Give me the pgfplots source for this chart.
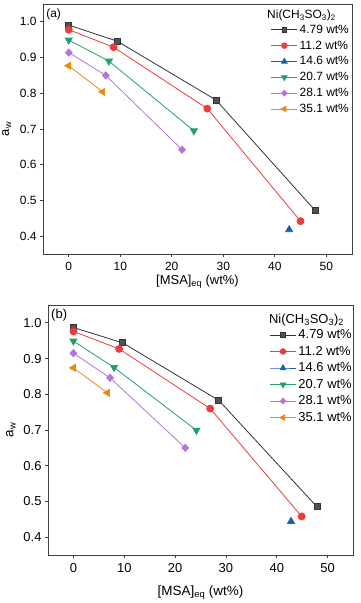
\documentclass[border=0pt]{standalone}
\usepackage{pgfplots}
\pgfplotsset{compat=1.18}
\usepackage{fontspec}
\setmainfont{Liberation Sans}
\definecolor{cblack}{HTML}{333333}
\definecolor{cred}{HTML}{EE3B3B}
\definecolor{cblue}{HTML}{1862AA}
\definecolor{cgreen}{HTML}{22A06B}
\definecolor{cpurple}{HTML}{B274DD}
\definecolor{corange}{HTML}{EB8A12}
\definecolor{frame}{HTML}{404040}

\pgfplotsset{
  panel/.style n args={3}{
    scale only axis, width=#1, height=250bp,
    xmin=-5, xmax=55, ymin=0.35, ymax=1.05,
    xtick={0,10,20,30,40,50}, ytick={0.4,0.5,0.6,0.7,0.8,0.9,1.0},
    yticklabel style={/pgf/number format/fixed, /pgf/number format/fixed zerofill, /pgf/number format/precision=1},
    xticklabel style={yshift=-2bp},
    /pgf/number format/assume math mode=true,
    tick align=outside, tick pos=left, major tick length=3bp,
    tick style={frame, line width=0.8pt},
    axis line style={frame, line width=0.9pt},
    tick label style={font=\fontsize{#2}{#2}\selectfont},
    label style={font=\fontsize{#3}{#3}\selectfont},
    xlabel={[MSA]\textsubscript{eq} (wt\%)},
    ylabel={a\textsubscript{w}},
    legend cell align=left,
    legend style={draw=none, fill=none, font=\fontsize{#2}{#2}\selectfont,
      anchor=north east, row sep=2bp, inner sep=0pt},
    legend image code/.code={\draw[mark repeat=2, mark phase=2, every mark/.append style={scale=0.8}] plot coordinates {(0bp,0bp) (13bp,0bp) (26bp,0bp)};},
    every axis plot/.append style={line width=0.8pt},
  },
  sblack/.style={color=cblack, mark=square*, mark size=3bp, mark options={fill=cblack!85}},
  sred/.style={color=cred, mark=*, mark size=3.5bp},
  sblue/.style={color=cblue, mark=triangle*, mark size=4bp},
  sgreen/.style={color=cgreen, mark=triangle*, mark size=4bp, mark options={rotate=180}},
  spurple/.style={color=cpurple, mark=diamond*, mark size=3.6bp, mark options={xscale=1.25}},
  sorange/.style={color=corange, mark=triangle*, mark size=4bp, mark options={rotate=90}},
}

\begin{document}
\begin{tikzpicture}[x=1bp, y=1bp]
\useasboundingbox (0,0) rectangle (360,603);

% (a)
\begin{axis}[panel={309bp}{12}{13}, at={(43bp,349bp)}, anchor=south west,
  legend style={at={(rel axis cs:0.997,0.925)}},
  xlabel style={at={(axis description cs:0.5,0)}, anchor=base, yshift=-31bp},
  ylabel style={yshift=2bp}]
\addplot[sblack] coordinates {(0,0.991) (9.4,0.946) (28.6,0.781) (47.9,0.471)};
\addlegendentry{4.79 wt\%}
\addplot[sred] coordinates {(0,0.978) (8.7,0.929) (26.9,0.757) (45.0,0.442)};
\addlegendentry{11.2 wt\%}
\addplot[sblue] coordinates {(42.8,0.418)};
\addlegendentry{14.6 wt\%}
\addplot[sgreen] coordinates {(0,0.949) (7.8,0.890) (24.3,0.695)};
\addlegendentry{20.7 wt\%}
\addplot[spurple] coordinates {(0,0.914) (7.2,0.850) (22.0,0.642)};
\addlegendentry{28.1 wt\%}
\addplot[sorange] coordinates {(0,0.877) (6.6,0.804)};
\addlegendentry{35.1 wt\%}
\node[anchor=base west, font=\fontsize{12}{12}\selectfont, inner sep=0pt] at (rel axis cs:0.01,0.944) {(a)};
\node[anchor=base west, font=\fontsize{12}{12}\selectfont, inner sep=0pt] at (rel axis cs:0.725,0.94) {Ni(CH\textsubscript{3}SO\textsubscript{3})\textsubscript{2}};
\end{axis}

% (b)
\begin{axis}[panel={305bp}{13}{13.5}, at={(48bp,48bp)}, anchor=south west,
  legend style={at={(rel axis cs:1.003,0.91)}},
  xlabel style={at={(axis description cs:0.5,0)}, anchor=base, yshift=-40bp},
  ylabel style={yshift=1bp}]
\addplot[sblack] coordinates {(0,0.987) (9.7,0.944) (28.6,0.783) (47.9,0.485)};
\addlegendentry{4.79 wt\%}
\addplot[sred] coordinates {(0,0.976) (9.0,0.927) (26.9,0.760) (44.9,0.458)};
\addlegendentry{11.2 wt\%}
\addplot[sblue] coordinates {(42.8,0.444)};
\addlegendentry{14.6 wt\%}
\addplot[sgreen] coordinates {(0,0.949) (8.0,0.875) (24.2,0.699)};
\addlegendentry{20.7 wt\%}
\addplot[spurple] coordinates {(0,0.915) (7.2,0.846) (22.0,0.650)};
\addlegendentry{28.1 wt\%}
\addplot[sorange] coordinates {(0,0.874) (6.7,0.804)};
\addlegendentry{35.1 wt\%}
\node[anchor=base west, font=\fontsize{13}{13}\selectfont, inner sep=0pt] at (rel axis cs:0.01,0.944) {(b)};
\node[anchor=base west, font=\fontsize{13}{13}\selectfont, inner sep=0pt] at (rel axis cs:0.724,0.925) {Ni(CH\textsubscript{3}SO\textsubscript{3})\textsubscript{2}};
\end{axis}
\end{tikzpicture}
\end{document}
